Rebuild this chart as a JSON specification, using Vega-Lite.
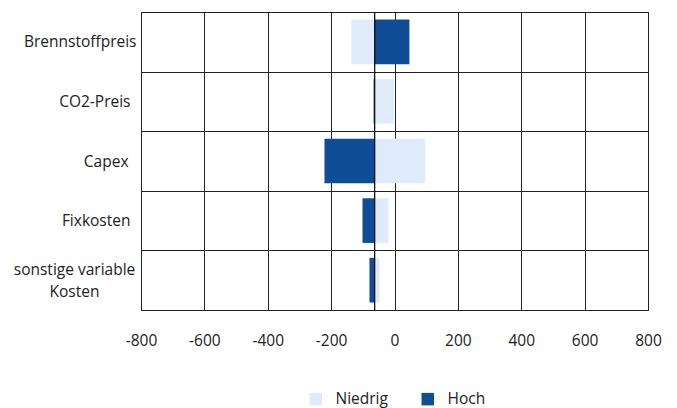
{
  "$schema": "https://vega.github.io/schema/vega-lite/v6.json",
  "width": 507,
  "height": 298,
  "autosize": "none",
  "padding": {"left": 141, "top": 12, "right": 29, "bottom": 98},
  "background": "white",
  "config": {
    "view": {"stroke": "#222", "strokeWidth": 1},
    "font": "Open Sans"
  },
  "data": {
    "values": [
      {"Faktor": "Brennstoffpreis", "Szenario": "Niedrig", "Wert": -136},
      {"Faktor": "Brennstoffpreis", "Szenario": "Hoch", "Wert": 47},
      {"Faktor": "CO2-Preis", "Szenario": "Niedrig", "Wert": -2},
      {"Faktor": "CO2-Preis", "Szenario": "Hoch", "Wert": -66},
      {"Faktor": "Capex", "Szenario": "Niedrig", "Wert": 97},
      {"Faktor": "Capex", "Szenario": "Hoch", "Wert": -221},
      {"Faktor": "Fixkosten", "Szenario": "Niedrig", "Wert": -19},
      {"Faktor": "Fixkosten", "Szenario": "Hoch", "Wert": -101},
      {"Faktor": "sonstige variable Kosten", "Szenario": "Niedrig", "Wert": -47},
      {"Faktor": "sonstige variable Kosten", "Szenario": "Hoch", "Wert": -79}
    ]
  },
  "layer": [
    {
      "mark": {"type": "bar", "height": {"band": 0.75}},
      "encoding": {
        "y": {
          "field": "Faktor",
          "type": "nominal",
          "sort": ["Brennstoffpreis", "CO2-Preis", "Capex", "Fixkosten", "sonstige variable Kosten"],
          "scale": {"paddingInner": 0, "paddingOuter": 0},
          "axis": {
            "title": null,
            "grid": true,
            "tickBand": "extent",
            "gridColor": "#222",
            "gridWidth": 1,
            "domain": false,
            "ticks": false,
            "labelFontSize": 15.5,
            "labelColor": "#222",
            "labelLineHeight": 22,
            "labelAlign": {"condition": {"test": "datum.value == 'sonstige variable Kosten'", "value": "center"}, "value": "right"},
            "labelPadding": {"condition": [
              {"test": "datum.value == 'sonstige variable Kosten'", "value": 67},
              {"test": "datum.value == 'CO2-Preis' || datum.value == 'Fixkosten'", "value": 11},
              {"test": "datum.value == 'Capex'", "value": 13}
            ], "value": 5},
            "labelOffset": {"condition": {"test": "datum.value == 'sonstige variable Kosten'", "value": -11}, "value": 0},
            "labelExpr": "datum.label == 'sonstige variable Kosten' ? ['sonstige variable', 'Kosten'] : datum.label"
          }
        },
        "x": {
          "field": "Wert",
          "type": "quantitative",
          "scale": {"domain": [-800, 800], "nice": false},
          "axis": {
            "title": null,
            "values": [-800, -600, -400, -200, 0, 200, 400, 600, 800],
            "grid": true,
            "gridColor": "#222",
            "gridWidth": 1,
            "domain": false,
            "ticks": false,
            "labelFontSize": 15.5,
            "labelColor": "#222",
            "labelPadding": 23,
            "labelFlush": false,
            "labelOverlap": false,
            "labelExpr": "toString(datum.value)"
          }
        },
        "x2": {"datum": -63},
        "color": {
          "field": "Szenario",
          "type": "nominal",
          "scale": {"domain": ["Niedrig", "Hoch"], "range": ["#DFEBFB", "#0F4D97"]},
          "legend": {
            "title": null,
            "orient": "none",
            "legendX": 167,
            "legendY": 379,
            "direction": "horizontal",
            "symbolType": "square",
            "symbolSize": 156,
            "symbolStrokeWidth": 0,
            "labelFontSize": 15.5,
            "labelColor": "#222",
            "labelOffset": 12,
            "columnPadding": 32,
            "padding": 0
          }
        }
      }
    },
    {
      "mark": {"type": "rule", "color": "#111", "strokeWidth": 1},
      "encoding": {"x": {"datum": -63}}
    }
  ]
}
